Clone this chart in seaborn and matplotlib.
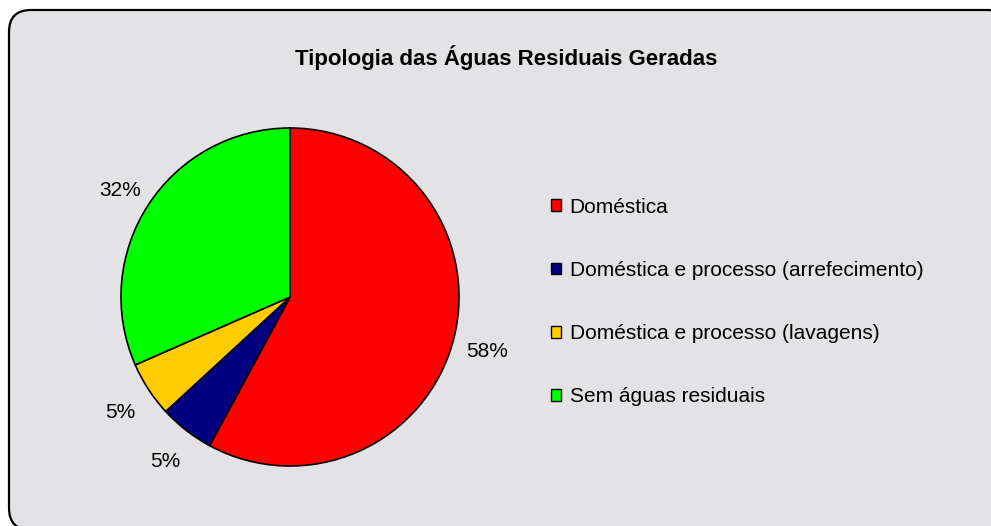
import matplotlib
matplotlib.use("Agg")
import seaborn as sns
from matplotlib import pyplot as plt
from matplotlib.patches import FancyBboxPatch, Patch
from matplotlib.transforms import IdentityTransform

sns.set_style("white")
plt.rcParams['font.family'] = ['Liberation Sans', 'DejaVu Sans']

# dados
categorias = ['Doméstica',
              'Doméstica e processo (arrefecimento)',
              'Doméstica e processo (lavagens)',
              'Sem águas residuais']
contagens = [11, 1, 1, 6]
cores = ['#FF0000', '#000080', '#FFCC00', '#00FF00']
titulo = 'Tipologia das Águas Residuais Geradas'

W, H = 991, 526
fig = plt.figure(figsize=(W / 100, H / 100), dpi=100)
fig.patch.set_facecolor('white')

# fundo com cantos arredondados (em pixeis)
fundo = FancyBboxPatch((9, -4), 1000, 520,
                       boxstyle='round,pad=0,rounding_size=22',
                       transform=IdentityTransform(), facecolor='#e3e3e5',
                       edgecolor='black', linewidth=1.6, zorder=-10)
fig.patches.append(fundo)

fig.text(506 / W, 1 - 57 / H, titulo, ha='center', va='center',
         fontsize=16, fontweight='bold', color='black')

# grafico circular
cx, cy, r = 290, 297, 169
ax = fig.add_axes([(cx - r) / W, (H - cy - r) / H, 2 * r / W, 2 * r / H])
_, _, pct = ax.pie(contagens, colors=cores, startangle=90, counterclock=False,
                   autopct=lambda p: f'{p:.0f}%', pctdistance=1.2,
                   wedgeprops={'edgecolor': 'black', 'linewidth': 1.2},
                   textprops={'fontsize': 15, 'color': 'black'})
for t in pct:
    x, y = t.get_position()
    t.set_position((x, y - 0.025))
ax.set_aspect('equal')
ax.set_xlim(-1, 1)
ax.set_ylim(-1, 1)
ax.axis('off')

handles = [Patch(facecolor=c, edgecolor='black', linewidth=1) for c in cores]
leg = fig.legend(handles, categorias, loc='center left',
                 bbox_to_anchor=(532 / W, 1 - 302 / H), frameon=False,
                 fontsize=15, handlelength=0.5, handleheight=0.5,
                 handletextpad=0.4, labelspacing=2.12)
for t in leg.get_texts():
    t.set_color('black')

fig.savefig('out.png', dpi=100)
